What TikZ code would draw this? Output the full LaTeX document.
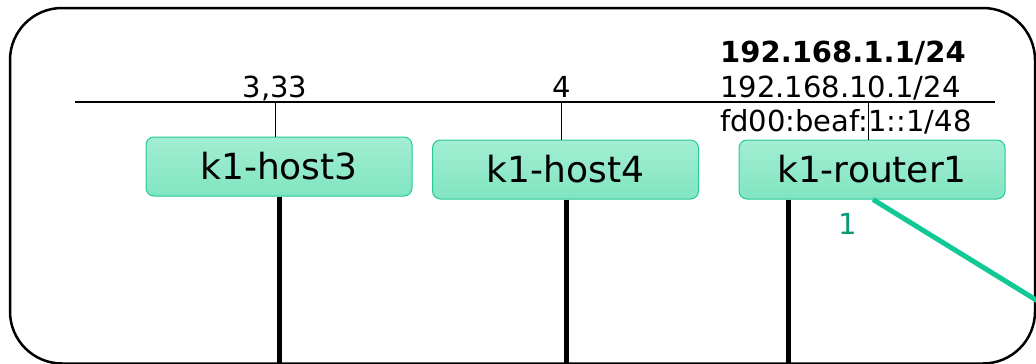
\documentclass[tikz,border=0pt]{standalone}
\usepackage{fontspec}
\setmainfont{DejaVu Sans}
\usetikzlibrary{positioning}

\definecolor{boxtop}{HTML}{A3EED3}
\definecolor{boxbot}{HTML}{80E5C0}
\definecolor{boxline}{HTML}{26C999}
\definecolor{linkgreen}{HTML}{12C996}
\definecolor{portgreen}{HTML}{0A9977}

\begin{document}
\begin{tikzpicture}
 [
  x=1pt, y=-1pt,
  device/.style = {draw=boxline, line width=1pt, rounded corners=8pt,
                   top color=boxtop, bottom color=boxbot,
                   minimum width=266pt, minimum height=59pt, inner sep=0pt,
                   font=\fontsize{36}{36}\selectfont},
  addr/.style   = {inner sep=0pt, anchor=base west, font=\fontsize{29}{29}\selectfont},
  vlan/.style   = {inner sep=0pt, anchor=base, font=\fontsize{29}{29}\selectfont},
  wire/.style   = {line width=5pt},
 ]
 \useasboundingbox (0,0) rectangle (1036,364);

 % the frame
 \draw[line width=2.5pt, rounded corners=52pt] (10,8) rectangle (1035,363.5);

 % the devices
 \node (host3)   at (279,166.5) [device] {k1-host3};
 \node (host4)   at (565.5,169.5) [device] {k1-host4};
 \node (router1) at (872,169.5) [device] {k1-router1};

 % the bus and the drops
 \coordinate (busL) at (75,102);
 \coordinate (busR) at (995,102);
 \draw[line width=1.3pt] (busL) -- (busR);
 \draw[line width=1pt] ([xshift=-4pt]host3.north) -- ([xshift=-4pt]host3.north |- busL);
 \draw[line width=1pt] ([xshift=-4pt]host4.north) -- ([xshift=-4pt]host4.north |- busL);
 \draw[line width=1pt] ([xshift=-4pt]router1.north) -- ([xshift=-4pt]router1.north |- busL);

 \node (vid3) at (275,97) [vlan] {3,33};
 \node (vid4) at (562,97) [vlan] {4};
 \node (ip4)  at (720,62) [addr] {\bfseries 192.168.1.1/24};
 \node (ip4b) at (720,97) [addr] {192.168.10.1/24};
 \node (ip6)  at (720,131) [addr] {fd00:beaf:1::1/48};

 % the links
 \coordinate (down3) at (279,380);
 \coordinate (down4) at (566,380);
 \coordinate (downr) at (788,380);
 \coordinate (uplink) at (1110,345.5);
 \draw[wire] (host3.south -| down3) -- (down3);
 \draw[wire] (host4.south -| down4) -- (down4);
 \draw[wire] (router1.south -| downr) -- (downr);
 \draw[wire, linkgreen] ([xshift=1pt]router1.south) -- (uplink);
 \node (port1) at (848,234) [vlan, text=portgreen] {1};
\end{tikzpicture}
\end{document}
